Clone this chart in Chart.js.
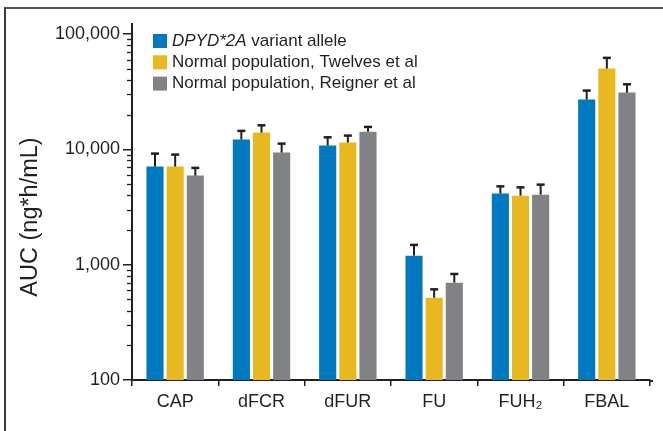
<!DOCTYPE html>
<html>
<head>
<meta charset="utf-8">
<script src="https://cdn.jsdelivr.net/npm/chart.js@4/dist/chart.umd.min.js"></script>
<style>
  html, body { margin: 0; padding: 0; background: #fff; }
  #wrap { position: relative; width: 663px; height: 431px; overflow: hidden; }
  #frame { position: absolute; left: 4px; top: 7px; width: 700px; height: 500px;
           border-left: 2px solid #3a3a3a; border-top: 2px solid #555; box-sizing: border-box; pointer-events: none; }
  canvas { position: absolute; left: 0; top: 0; }
</style>
</head>
<body>
<div id="wrap">
  <canvas id="c" width="663" height="431"></canvas>
  <div id="frame"></div>
</div>
<script>
const categories = ['CAP', 'dFCR', 'dFUR', 'FU', 'FUH\u2082', 'FBAL'];
const seriesNames = ['DPYD*2A variant allele', 'Normal population, Twelves et al', 'Normal population, Reigner et al'];
const axisTitle = 'AUC (ng*h/mL)';
const variantValues  = [7080, 12140, 10770, 1197, 4130, 26980];
const variantUpper   = [9180, 14450, 12710, 1483, 4775, 32300];
const twelvesValues  = [7080, 13960, 11430, 517, 3965, 50120];
const twelvesUpper   = [9000, 16150, 13150, 611, 4680, 62050];
const reignerValues  = [5915, 9360, 14230, 698, 4045, 31030];
const reignerUpper   = [6900, 11200, 15640, 830, 4940, 36620];
const majorTicks = [100, 1000, 10000, 100000];
const minorTicks = [200,300,400,500,600,700,800,900,2000,3000,4000,5000,6000,7000,8000,9000,20000,30000,40000,50000,60000,70000,80000,90000];

const colors = ['#0079c1', '#e8b821', '#808285'];
const ink = '#231f20';
const FONT = '"Liberation Sans", Arial, sans-serif';
const upperSets = [variantUpper, twelvesUpper, reignerUpper];
const valueSets = [variantValues, twelvesValues, reignerValues];

const errorBars = {
  id: 'errorBars',
  afterDatasetsDraw(chart) {
    const ctx = chart.ctx;
    const y = chart.scales.y;
    ctx.save();
    ctx.strokeStyle = ink;
    chart.data.datasets.forEach((ds, di) => {
      const meta = chart.getDatasetMeta(di);
      meta.data.forEach((bar, i) => {
        const yt = y.getPixelForValue(upperSets[di][i]);
        ctx.lineWidth = 2;
        ctx.beginPath();
        ctx.moveTo(bar.x, bar.y);
        ctx.lineTo(bar.x, yt);
        ctx.stroke();
        ctx.lineWidth = 2.5;
        ctx.beginPath();
        ctx.moveTo(bar.x - 4, yt);
        ctx.lineTo(bar.x + 4, yt);
        ctx.stroke();
      });
    });
    ctx.restore();
  }
};

const minorTickPlugin = {
  id: 'minorTicks',
  afterDraw(chart) {
    const ctx = chart.ctx;
    const y = chart.scales.y;
    const x0 = chart.chartArea.left;
    ctx.save();
    ctx.strokeStyle = ink;
    ctx.lineWidth = 1.3;
    minorTicks.forEach(v => {
      const py = Math.round(y.getPixelForValue(v)) + 0.5;
      ctx.beginPath();
      ctx.moveTo(x0 - 5, py);
      ctx.lineTo(x0, py);
      ctx.stroke();
    });
    // slight extension of x axis line past the last tick
    ctx.lineWidth = 2;
    ctx.beginPath();
    ctx.moveTo(chart.chartArea.right - 1, chart.chartArea.bottom + 1);
    ctx.lineTo(chart.chartArea.right + 3, chart.chartArea.bottom + 1);
    ctx.stroke();
    ctx.restore();
  }
};

const titlePlugin = {
  id: 'yTitle',
  afterDraw(chart) {
    const ctx = chart.ctx;
    ctx.save();
    ctx.translate(31, 217);
    ctx.rotate(-Math.PI / 2);
    ctx.fillStyle = ink;
    ctx.font = '23.5px ' + FONT;
    ctx.textAlign = 'center';
    ctx.textBaseline = 'middle';
    ctx.fillText(axisTitle, 0, 0);
    ctx.restore();
  }
};

const legendPlugin = {
  id: 'customLegend',
  afterDraw(chart) {
    const ctx = chart.ctx;
    const x = 153, y0 = 41, step = 21.3, sw = 14;
    ctx.save();
    ctx.textBaseline = 'middle';
    chart.data.datasets.forEach((ds, i) => {
      const yy = y0 + i * step;
      ctx.fillStyle = ds.backgroundColor;
      ctx.fillRect(x, yy - sw / 2, sw, sw);
      ctx.fillStyle = ink;
      let tx = x + 19;
      const name = seriesNames[i];
      if (i === 0) {
        const it = 'DPYD*2A';
        ctx.font = 'italic 17px ' + FONT;
        ctx.fillText(it, tx, yy);
        tx += ctx.measureText(it).width;
        ctx.font = '17px ' + FONT;
        ctx.fillText(name.slice(it.length), tx, yy);
      } else {
        ctx.font = '17px ' + FONT;
        ctx.fillText(name, tx, yy);
      }
    });
    ctx.restore();
  }
};

new Chart(document.getElementById('c'), {
  type: 'bar',
  data: {
    labels: categories,
    datasets: valueSets.map((vals, i) => ({
      label: seriesNames[i],
      data: vals,
      backgroundColor: colors[i],
      borderWidth: 0,
      barPercentage: 0.85,
      categoryPercentage: 0.70
    }))
  },
  options: {
    responsive: false,
    animation: false,
    devicePixelRatio: 1,
    layout: { padding: { left: 6, top: 24, right: 13, bottom: 14 } },
    plugins: { legend: { display: false }, tooltip: { enabled: false } },
    scales: {
      x: {
        grid: { display: true, drawOnChartArea: false, offset: true, tickLength: 6, color: ink, lineWidth: 1.5 },
        border: { display: true, color: ink, width: 2 },
        ticks: { color: ink, font: { family: FONT, size: 18 }, padding: 5, maxRotation: 0 },
        afterFit(scale) { scale.height = 431 - 380 - 14; }
      },
      y: {
        type: 'logarithmic',
        min: 100,
        max: 122000,
        afterBuildTicks(scale) { scale.ticks = majorTicks.map(v => ({ value: v })); },
        afterFit(scale) { scale.width = 132 - 6; },
        grid: { display: true, drawOnChartArea: false, tickLength: 9, color: ink, lineWidth: 1.5 },
        border: { display: true, color: ink, width: 2 },
        ticks: {
          color: ink,
          padding: 3,
          font: { family: FONT, size: 18 },
          callback: v => Number(v).toLocaleString('en-US')
        },
        title: { display: false }
      }
    }
  },
  plugins: [errorBars, minorTickPlugin, legendPlugin, titlePlugin]
});
</script>
</body>
</html>
